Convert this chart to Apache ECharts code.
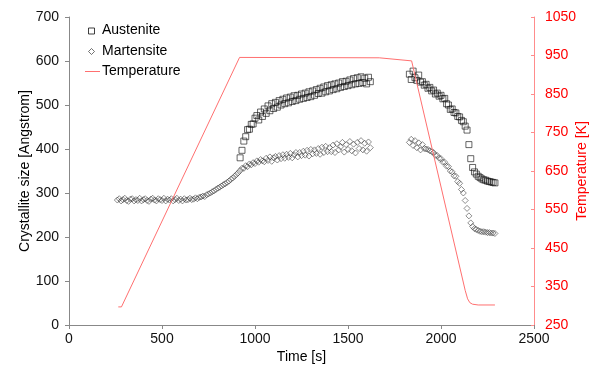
<!DOCTYPE html>
<html>
<head>
<meta charset="utf-8">
<script src="https://cdn.jsdelivr.net/npm/echarts@6/dist/echarts.min.js"></script>
<style>html,body{margin:0;padding:0;background:#fff;}#c{width:603px;height:369px;}</style>
</head>
<body>
<div id="c"></div>
<script>
// Heating phase times (s) for martensite
const martHeatT = [260,270,280,290,300,310,320,330,340,350,360,370,380,390,400,410,420,430,440,450,460,470,480,490,500,510,520,530,540,550,560,570,580,590,600,610,620,630,640,650,660,670,680,690,700,710,720,730,740,750,760,770,780,790,800,810,820,830,840,850,860,870,880,890,900,910,920,930,940,950,960,970,980,990,1000,1010,1020,1030,1040,1050,1060,1070,1080,1090,1100,1110,1120,1130,1140,1150,1160,1170,1180,1190,1200,1210,1220,1230,1240,1250,1260,1270,1280,1290,1300,1310,1320,1330,1340,1350,1360,1370,1380,1390,1400,1410,1420,1430,1440,1450,1460,1470,1480,1490,1500,1510,1520,1530,1540,1550,1560,1570,1580,1590,1600,1610,1620];
const martHeatV = [284,287,282,285,288,283,281,286,287,282,
  285,283,288,282,285,287,283,281,286,288,
  284,282,287,285,283,288,282,286,284,287,
  282,285,288,283,286,282,287,284,285,288,
  285,
  286,289,287,290,291,293,292,296,298,300,
  303,305,308,311,313,316,319,321,324,
  327,331,334,338,342,346,351,356,
  356,362,360,366,364,369,367,373,370,376,373,
  371,379,374,382,372,380,383,375,385,378,387,379,388,381,390,380,387,392,
  382,392,385,395,386,397,384,399,389,398,390,401,388,404,392,406,394,403,
  394,409,392,412,398,405,415,393,410,399,417,396,411,391,415,401,419,398,413,395,416,403];
// Heating phase times (s) for austenite
const ausHeatT = [920,930,940,950,960,970,980,990,1000,1010,1020,1030,1040,1050,1060,1070,1080,1090,1100,1110,1120,1130,1140,1150,1160,1170,1180,1190,1200,1210,1220,1230,1240,1250,1260,1270,1280,1290,1300,1310,1320,1330,1340,1350,1360,1370,1380,1390,1400,1410,1420,1430,1440,1450,1460,1470,1480,1490,1500,1510,1520,1530,1540,1550,1560,1570,1580,1590,1600,1610,1620];
const ausHeatV = [380,397,418,428,444,445,456,457,470,
  476,466,484,474,491,481,498,487,503,492,506,495,510,
  500,513,503,516,505,518,508,521,510,522,513,525,515,527,517,530,519,532,
  522,535,526,538,527,541,530,544,532,546,535,548,537,550,540,553,542,554,
  544,557,546,560,548,562,549,564,551,561,548,563,553];
// Cooling phase times (s)
const coolT = [1830,1840,1850,1860,1870,1880,1890,1900,1910,1920,1930,1940,1950,1960,1970,1980,1990,2000,2010,2020,2030,2040,2050,2060,2070,2080,2090,2100,2110,2120,2130,2140,2150,2160,2170,2180,2190,2200,2210,2220,2230,2240,2250,2260,2270,2280,2290];
const ausCoolV = [570,558,577,562,556,568,552,553,545,547,
  538,540,532,534,525,527,520,522,514,515,
  503,500,490,491,483,482,474,473,465,462,
  452,443,410,378,358,348,343,338,335,332,
  330,329,327,326,325,324,323];
const martCoolV = [415,422,408,419,403,414,398,410,401,400,
  399,396,394,392,386,385,379,378,370,370,
  361,360,350,348,339,338,326,322,308,300,
  283,265,248,232,224,219,217,215,213,212,
  212,211,210,210,209,209,208];
// Temperature profile
const tempT = [265,282,917,1668,1842,2130,2143,2155,2170,2200,2290];
const tempV = [297,297,945,944,936,340,318,308,304,302,302];

// Axis ticks
const xTicks = {min:0,max:2500,interval:500};
const yLeftTicks = {min:0,max:700,interval:100};
const yRightTicks = {min:250,max:1050,interval:100};
// Legend entries
const legendNames = ['Austenite','Martensite','Temperature'];

function pairs(t, v){ return t.map((x,i)=>[x, v[i]]); }

const FONT = 'Liberation Sans, Arial, sans-serif';
const AUS_BORDER = 'rgba(15,15,15,0.8)';
const MART_BORDER = 'rgba(40,40,40,0.65)';
const TEMP_COLOR = '#ff7070';
const plain = v => String(v);

const chart = echarts.init(document.getElementById('c'), null, {renderer:'canvas'});
chart.setOption({
  animation:false,
  backgroundColor:'#fff',
  grid:{left:69,right:69,top:17,bottom:44,containLabel:false,outerBoundsMode:'none'},
  graphic:[
    {type:'rect', shape:{x:88.5,y:28,width:6,height:6}, style:{fill:'none',stroke:AUS_BORDER,lineWidth:1}},
    {type:'text', left:102, top:23, style:{text:legendNames[0],font:'14px '+FONT,fill:'#000'}},
    {type:'polygon', shape:{points:[[91.5,48.5],[94.5,51.5],[91.5,54.5],[88.5,51.5]]}, style:{fill:'none',stroke:MART_BORDER,lineWidth:1}},
    {type:'text', left:102, top:44, style:{text:legendNames[1],font:'14px '+FONT,fill:'#000'}},
    {type:'line', shape:{x1:85,y1:71.5,x2:100,y2:71.5}, style:{stroke:TEMP_COLOR,lineWidth:1}},
    {type:'text', left:102, top:64, style:{text:legendNames[2],font:'14px '+FONT,fill:'#000'}}
  ],
  xAxis:{
    type:'value', min:xTicks.min, max:xTicks.max, interval:xTicks.interval,
    name:'Time [s]', nameLocation:'middle', nameGap:25, nameMoveOverlap:false,
    nameTextStyle:{fontSize:14,fontFamily:FONT,color:'#000'},
    axisLine:{show:true,lineStyle:{color:'#888'}},
    axisTick:{show:true,inside:false,length:4,lineStyle:{color:'#888'}},
    axisLabel:{fontSize:14,fontFamily:FONT,color:'#111',margin:7,formatter:plain},
    splitLine:{show:false}
  },
  yAxis:[{
    type:'value', min:yLeftTicks.min, max:yLeftTicks.max, interval:yLeftTicks.interval,
    name:'Crystallite size [Angstrom]', nameLocation:'middle', nameGap:37, nameRotate:90, nameMoveOverlap:false,
    nameTextStyle:{fontSize:14,fontFamily:FONT,color:'#000'},
    axisLine:{show:true,lineStyle:{color:'#888'}},
    axisTick:{show:true,inside:false,length:4,lineStyle:{color:'#888'}},
    axisLabel:{fontSize:14,fontFamily:FONT,color:'#111',margin:10,formatter:plain},
    splitLine:{show:false}
  },{
    type:'value', position:'right', min:yRightTicks.min, max:yRightTicks.max, interval:yRightTicks.interval,
    name:'Temperature [K]', nameLocation:'middle', nameGap:41, nameRotate:90, nameMoveOverlap:false,
    nameTextStyle:{fontSize:14,fontFamily:FONT,color:'#ff0000'},
    axisLine:{show:true,lineStyle:{color:'#ff8c8c'}},
    axisTick:{show:true,inside:true,length:3,lineStyle:{color:'#ff8c8c'}},
    axisLabel:{fontSize:14,fontFamily:FONT,color:'#ff0000',margin:11,formatter:plain},
    splitLine:{show:false}
  }],
  series:[{
    name:'Austenite', type:'scatter', yAxisIndex:0, symbol:'rect', symbolSize:6,
    itemStyle:{color:'rgba(255,255,255,0)',borderColor:AUS_BORDER,borderWidth:1},
    data: pairs(ausHeatT, ausHeatV).concat(pairs(coolT, ausCoolV))
  },{
    name:'Martensite', type:'scatter', yAxisIndex:0, symbol:'diamond', symbolSize:6,
    itemStyle:{color:'rgba(255,255,255,0)',borderColor:MART_BORDER,borderWidth:1},
    data: pairs(martHeatT, martHeatV).concat(pairs(coolT, martCoolV))
  },{
    name:'Temperature', type:'line', yAxisIndex:1, showSymbol:false, symbol:'none',
    lineStyle:{color:TEMP_COLOR,width:1},
    data: pairs(tempT, tempV)
  }]
});
</script>
</body>
</html>
